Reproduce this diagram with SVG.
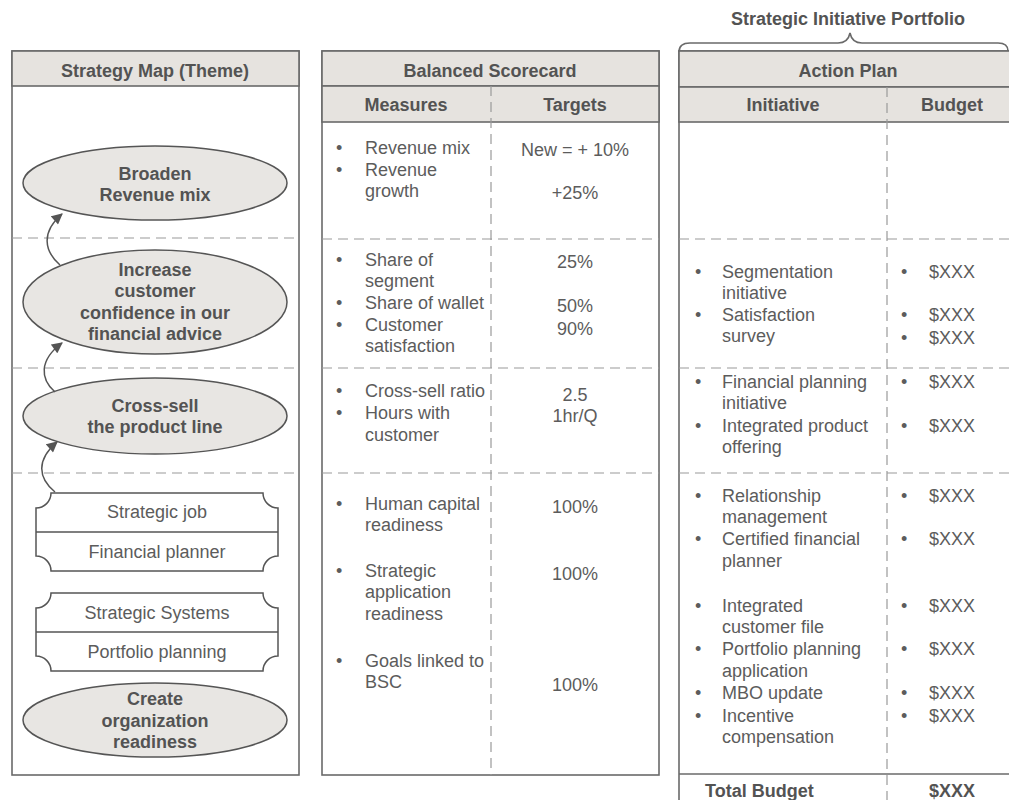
<svg xmlns="http://www.w3.org/2000/svg" width="1009" height="800" viewBox="0 0 1009 800">
<defs>
<style>
.t{font-family:"Liberation Sans",Arial,sans-serif;font-size:18px;fill:#5c5c5c}
.b{font-weight:bold;fill:#535353}
.m{text-anchor:middle}
.panel{fill:#fff;stroke:#6a6a6a;stroke-width:1.6}
.hdr{fill:#e6e3df;stroke:#6a6a6a;stroke-width:1.6}
.dash{stroke:#9a9a9a;stroke-width:1.2;stroke-dasharray:10 6;fill:none}
.solid{stroke:#6a6a6a;stroke-width:1.6;fill:none}
.ell{fill:#e8e6e3;stroke:#555;stroke-width:1.5}
.plq{fill:#fff;stroke:#555;stroke-width:1.5}
.conn{fill:none;stroke:#555;stroke-width:1.5;marker-end:url(#ah)}
</style>
<marker id="ah" viewBox="0 0 10 10" refX="9" refY="5" markerWidth="12" markerHeight="11" markerUnits="userSpaceOnUse" orient="auto">
<path d="M0,0 L10,5 L0,10 z" fill="#555"/>
</marker>
</defs>
<rect width="1009" height="800" fill="#fff"/>

<!-- Left panel: Strategy Map -->
<g id="strategy-map-panel">
<rect class="panel" x="12" y="51" width="287" height="724"/>
<rect class="hdr" x="12" y="51" width="287" height="35"/>
<text class="t b m" x="155" y="77">Strategy Map (Theme)</text>
<line class="dash" x1="12" y1="238" x2="299" y2="238"/>
<line class="dash" x1="12" y1="368" x2="299" y2="368"/>
<line class="dash" x1="12" y1="473" x2="299" y2="473"/>
</g>

<g id="node-broaden">
<ellipse class="ell" cx="155" cy="183" rx="132" ry="37"/>
<text class="t b m" x="155" y="180">Broaden</text>
<text class="t b m" x="155" y="201">Revenue mix</text>
</g>
<g id="node-increase">
<ellipse class="ell" cx="155" cy="302" rx="132" ry="52"/>
<text class="t b m" x="155" y="276">Increase</text>
<text class="t b m" x="155" y="297">customer</text>
<text class="t b m" x="155" y="319">confidence in our</text>
<text class="t b m" x="155" y="340">financial advice</text>
</g>
<g id="node-crosssell">
<ellipse class="ell" cx="155" cy="416" rx="132" ry="38"/>
<text class="t b m" x="155" y="412">Cross-sell</text>
<text class="t b m" x="155" y="433">the product line</text>
</g>
<g id="node-strategic-job">
<path class="plq" d="M51,493 H263 A15,15 0 0 0 278,508 V556 A15,15 0 0 0 263,571 H51 A15,15 0 0 0 36,556 V508 A15,15 0 0 0 51,493 Z"/>
<line class="plq" x1="36" y1="532" x2="278" y2="532"/>
<text class="t m" x="157" y="518">Strategic job</text>
<text class="t m" x="157" y="558">Financial planner</text>
</g>
<g id="node-strategic-systems">
<path class="plq" d="M51,593 H263 A15,15 0 0 0 278,608 V656 A15,15 0 0 0 263,671 H51 A15,15 0 0 0 36,656 V608 A15,15 0 0 0 51,593 Z"/>
<line class="plq" x1="36" y1="632" x2="278" y2="632"/>
<text class="t m" x="157" y="619">Strategic Systems</text>
<text class="t m" x="157" y="658">Portfolio planning</text>
</g>
<g id="node-create">
<ellipse class="ell" cx="155" cy="720" rx="132" ry="37"/>
<text class="t b m" x="155" y="705">Create</text>
<text class="t b m" x="155" y="727">organization</text>
<text class="t b m" x="155" y="748">readiness</text>
</g>

<g id="connectors">
<path class="conn" d="M60,265 C44,251 41,232 62,214"/>
<path class="conn" d="M55,392 C40,379 39,360 62,343"/>
<path class="conn" d="M55,492 C38,478 36,460 57,442"/>
</g>

<!-- Middle panel: Balanced Scorecard -->
<g id="balanced-scorecard">
<rect class="panel" x="322" y="51" width="337" height="724"/>
<rect class="hdr" x="322" y="51" width="337" height="35"/>
<rect class="hdr" x="322" y="86" width="337" height="36"/>
<line class="dash" x1="491" y1="86" x2="491" y2="775"/>
<line class="dash" x1="322" y1="239" x2="659" y2="239"/>
<line class="dash" x1="322" y1="368" x2="659" y2="368"/>
<line class="dash" x1="322" y1="473" x2="659" y2="473"/>
<text class="t b m" x="490" y="77">Balanced Scorecard</text>
<text class="t b m" x="406" y="111">Measures</text>
<text class="t b m" x="575" y="111">Targets</text>

<text class="t" x="336" y="154">•</text><text class="t" x="365" y="154">Revenue mix</text>
<text class="t" x="336" y="176">•</text><text class="t" x="365" y="176">Revenue</text>
<text class="t" x="365" y="197">growth</text>
<text class="t m" x="575" y="156">New = + 10%</text>
<text class="t m" x="575" y="199">+25%</text>

<text class="t" x="336" y="266">•</text><text class="t" x="365" y="266">Share of</text>
<text class="t" x="365" y="287">segment</text>
<text class="t" x="336" y="309">•</text><text class="t" x="365" y="309">Share of wallet</text>
<text class="t" x="336" y="331">•</text><text class="t" x="365" y="331">Customer</text>
<text class="t" x="365" y="352">satisfaction</text>
<text class="t m" x="575" y="268">25%</text>
<text class="t m" x="575" y="312">50%</text>
<text class="t m" x="575" y="335">90%</text>

<text class="t" x="336" y="397">•</text><text class="t" x="365" y="397">Cross-sell ratio</text>
<text class="t" x="336" y="419">•</text><text class="t" x="365" y="419">Hours with</text>
<text class="t" x="365" y="441">customer</text>
<text class="t m" x="575" y="401">2.5</text>
<text class="t m" x="575" y="422">1hr/Q</text>

<text class="t" x="336" y="510">•</text><text class="t" x="365" y="510">Human capital</text>
<text class="t" x="365" y="531">readiness</text>
<text class="t" x="336" y="577">•</text><text class="t" x="365" y="577">Strategic</text>
<text class="t" x="365" y="598">application</text>
<text class="t" x="365" y="620">readiness</text>
<text class="t" x="336" y="667">•</text><text class="t" x="365" y="667">Goals linked to</text>
<text class="t" x="365" y="688">BSC</text>
<text class="t m" x="575" y="513">100%</text>
<text class="t m" x="575" y="580">100%</text>
<text class="t m" x="575" y="691">100%</text>
</g>

<!-- Right panel: Action Plan -->
<g id="action-plan">
<path class="solid" d="M679,52 Q679,43 690,43 H838 Q848,43 850,33 Q852,43 862,43 H998 Q1008,43 1008,51"/>
<text class="t b m" x="848" y="25">Strategic Initiative Portfolio</text>
<rect class="panel" x="679" y="51" width="338" height="770"/>
<rect class="hdr" x="679" y="51" width="338" height="36"/>
<rect class="hdr" x="679" y="87" width="338" height="35"/>
<line class="dash" x1="887" y1="87" x2="887" y2="800"/>
<line class="dash" x1="679" y1="239" x2="1017" y2="239"/>
<line class="dash" x1="679" y1="368" x2="1017" y2="368"/>
<line class="dash" x1="679" y1="473" x2="1017" y2="473"/>
<line class="solid" x1="679" y1="774" x2="1017" y2="774"/>
<text class="t b m" x="848" y="77">Action Plan</text>
<text class="t b m" x="783" y="111">Initiative</text>
<text class="t b m" x="952" y="111">Budget</text>

<text class="t" x="695" y="278">•</text><text class="t" x="722" y="278">Segmentation</text>
<text class="t" x="722" y="299">initiative</text>
<text class="t" x="695" y="321">•</text><text class="t" x="722" y="321">Satisfaction</text>
<text class="t" x="722" y="342">survey</text>
<text class="t" x="901" y="278">•</text><text class="t" x="929" y="278">$XXX</text>
<text class="t" x="901" y="321">•</text><text class="t" x="929" y="321">$XXX</text>
<text class="t" x="901" y="344">•</text><text class="t" x="929" y="344">$XXX</text>

<text class="t" x="695" y="388">•</text><text class="t" x="722" y="388">Financial planning</text>
<text class="t" x="722" y="409">initiative</text>
<text class="t" x="695" y="432">•</text><text class="t" x="722" y="432">Integrated product</text>
<text class="t" x="722" y="453">offering</text>
<text class="t" x="901" y="388">•</text><text class="t" x="929" y="388">$XXX</text>
<text class="t" x="901" y="432">•</text><text class="t" x="929" y="432">$XXX</text>

<text class="t" x="695" y="502">•</text><text class="t" x="722" y="502">Relationship</text>
<text class="t" x="722" y="523">management</text>
<text class="t" x="695" y="545">•</text><text class="t" x="722" y="545">Certified financial</text>
<text class="t" x="722" y="567">planner</text>
<text class="t" x="695" y="612">•</text><text class="t" x="722" y="612">Integrated</text>
<text class="t" x="722" y="633">customer file</text>
<text class="t" x="695" y="655">•</text><text class="t" x="722" y="655">Portfolio planning</text>
<text class="t" x="722" y="677">application</text>
<text class="t" x="695" y="699">•</text><text class="t" x="722" y="699">MBO update</text>
<text class="t" x="695" y="722">•</text><text class="t" x="722" y="722">Incentive</text>
<text class="t" x="722" y="743">compensation</text>
<text class="t" x="901" y="502">•</text><text class="t" x="929" y="502">$XXX</text>
<text class="t" x="901" y="545">•</text><text class="t" x="929" y="545">$XXX</text>
<text class="t" x="901" y="612">•</text><text class="t" x="929" y="612">$XXX</text>
<text class="t" x="901" y="655">•</text><text class="t" x="929" y="655">$XXX</text>
<text class="t" x="901" y="699">•</text><text class="t" x="929" y="699">$XXX</text>
<text class="t" x="901" y="722">•</text><text class="t" x="929" y="722">$XXX</text>

<text class="t b" x="705" y="797">Total Budget</text>
<text class="t b m" x="952" y="797">$XXX</text>
</g>
</svg>
